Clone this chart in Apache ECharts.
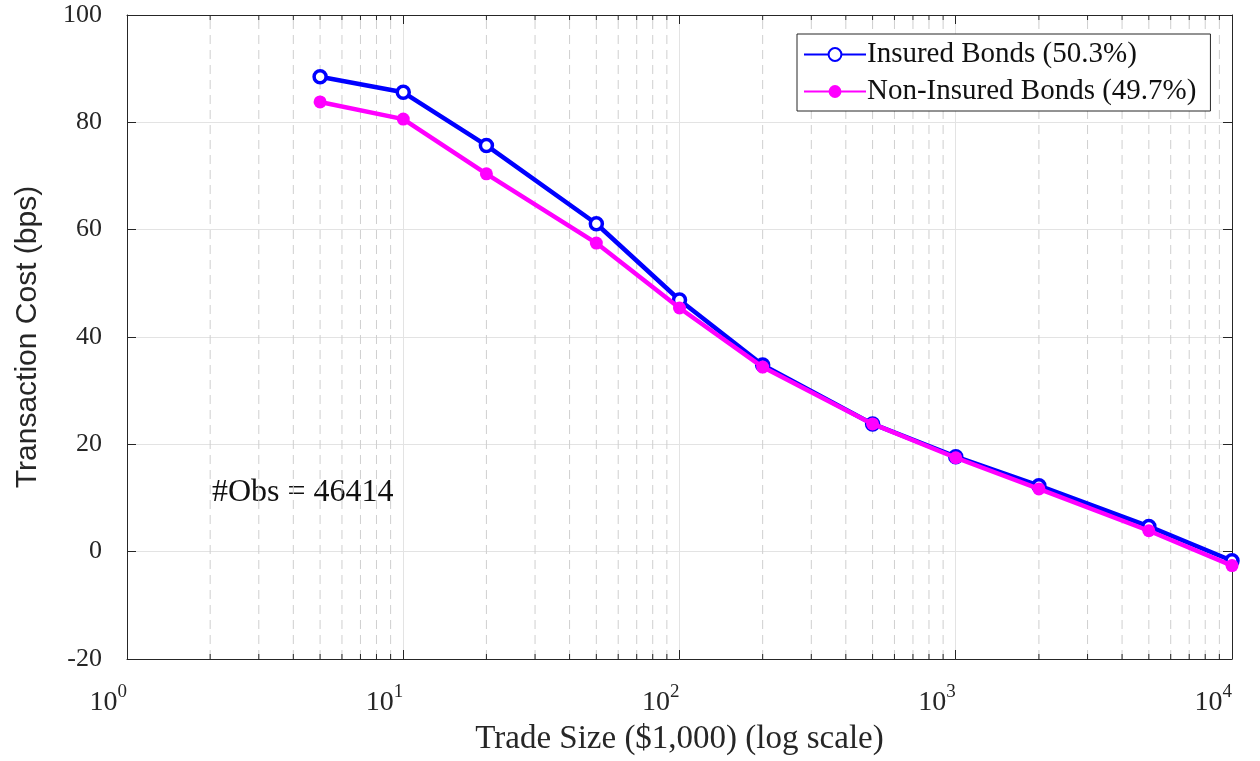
<!DOCTYPE html>
<html>
<head>
<meta charset="utf-8">
<script src="https://cdn.jsdelivr.net/npm/echarts@6/dist/echarts.min.js"></script>
<style>
  html, body { margin: 0; padding: 0; background: #fff; }
  #chart { width: 1260px; height: 761px; }
</style>
</head>
<body>
<div id="chart"></div>
<script>
  // trade size buckets ($1,000)
  var tradeSizes = [5, 10, 20, 50, 100, 200, 500, 1000, 2000, 5000, 10000];
  var insured = [88.5, 85.6, 75.7, 61.1, 46.9, 34.8, 23.8, 17.7, 12.3, 4.7, -1.7];
  var nonInsured = [83.8, 80.6, 70.4, 57.5, 45.4, 34.4, 23.8, 17.5, 11.7, 3.9, -2.6];
  var yTicks = [-20, 0, 20, 40, 60, 80, 100];
  // minor grid lines 2..9 x 10^k
  var minorX = [];
  for (var k = 0; k < 4; k++) {
    for (var m = 2; m <= 9; m++) minorX.push(m * Math.pow(10, k));
  }

  var serif = 'Liberation Serif';
  var ink = '#262626';

  var chart = echarts.init(document.getElementById('chart'));

  function pairs(ys) {
    return tradeSizes.map(function (x, i) { return [x, ys[i]]; });
  }

  chart.setOption({
    animation: false,
    grid: { left: 127, right: 28, top: 15, bottom: 102 },
    legend: {
      orient: 'vertical',
      left: 797, top: 34,
      padding: [6, 14, 5, 6],
      itemGap: 8,
      itemWidth: 62, itemHeight: 16,
      borderColor: ink, borderWidth: 1,
      backgroundColor: '#fff',
      textStyle: { fontFamily: serif, fontSize: 29, color: '#111', padding: [0, 0, 0, -4] },
      data: ['Insured Bonds (50.3%)', 'Non-Insured Bonds (49.7%)']
    },
    xAxis: [{
      type: 'log', logBase: 10, min: 1, max: 10000,
      name: 'Trade Size ($1,000) (log scale)',
      nameLocation: 'middle', nameGap: 64,
      nameTextStyle: { fontFamily: serif, fontSize: 33, color: ink },
      axisLine: { onZero: false, lineStyle: { color: ink, width: 1 } },
      axisTick: { inside: true, length: 9, lineStyle: { color: ink } },
      splitLine: { show: true, lineStyle: { color: '#e3e3e3', width: 1 } },
      axisLabel: {
        margin: 24,
        align: 'right',
        formatter: function (v) {
          return '{b|10}{s|' + Math.round(Math.log10(v)) + '}';
        },
        rich: {
          b: { fontFamily: serif, fontSize: 28, color: ink },
          s: { fontFamily: serif, fontSize: 19, color: ink, padding: [0, 0, 20, 0] }
        }
      }
    }, {
      type: 'log', logBase: 10, min: 1, max: 10000, position: 'top',
      axisLine: { onZero: false, lineStyle: { color: ink, width: 1 } },
      axisTick: { inside: true, length: 9, lineStyle: { color: ink } },
      axisLabel: { show: false }, splitLine: { show: false }
    }],
    yAxis: [{
      type: 'value', min: yTicks[0], max: yTicks[yTicks.length - 1], interval: 20,
      name: 'Transaction Cost (bps)',
      nameLocation: 'middle', nameGap: 84,
      nameTextStyle: { fontFamily: 'Liberation Sans', fontSize: 30, color: ink },
      axisLine: { show: true, onZero: false, lineStyle: { color: ink, width: 1 } },
      axisTick: { show: true, inside: true, length: 9, lineStyle: { color: ink } },
      splitLine: { show: true, lineStyle: { color: '#e3e3e3', width: 1 } },
      axisLabel: { margin: 25, fontFamily: serif, fontSize: 26, color: ink }
    }, {
      type: 'value', min: yTicks[0], max: yTicks[yTicks.length - 1], interval: 20,
      position: 'right',
      axisLine: { show: true, onZero: false, lineStyle: { color: ink, width: 1 } },
      axisTick: { show: true, inside: true, length: 9, lineStyle: { color: ink } },
      axisLabel: { show: false }, splitLine: { show: false }
    }],
    graphic: [{
      type: 'text', left: 212, top: 477,
      style: { text: '#Obs = 46414', font: '32px "Liberation Serif"', fill: '#111' }
    }],
    series: [{
      type: 'custom',
      silent: true,
      z: 1,
      data: minorX,
      renderItem: function (params, api) {
        var x = api.value(0);
        var lo = api.coord([x, yTicks[0]]);
        var hi = api.coord([x, yTicks[yTicks.length - 1]]);
        return {
          type: 'group',
          children: [{
            type: 'line',
            shape: { x1: lo[0], y1: lo[1], x2: hi[0], y2: hi[1] },
            style: { stroke: '#cfcfcf', lineWidth: 1, lineDash: [9, 6] }
          }, {
            type: 'line',
            shape: { x1: lo[0], y1: lo[1], x2: lo[0], y2: lo[1] - 5 },
            style: { stroke: ink, lineWidth: 1 }
          }, {
            type: 'line',
            shape: { x1: hi[0], y1: hi[1], x2: hi[0], y2: hi[1] + 5 },
            style: { stroke: ink, lineWidth: 1 }
          }]
        };
      },
      encode: { x: 0 }
    }, {
      name: 'Insured Bonds (50.3%)',
      type: 'line',
      z: 3,
      data: pairs(insured),
      symbol: 'circle', symbolSize: 12,
      lineStyle: { color: '#0000ff', width: 4.5 },
      itemStyle: { color: '#fff', borderColor: '#0000ff', borderWidth: 3.5 }
    }, {
      name: 'Non-Insured Bonds (49.7%)',
      type: 'line',
      z: 4,
      data: pairs(nonInsured),
      symbol: 'circle', symbolSize: 13,
      lineStyle: { color: '#ff00ff', width: 4.5 },
      itemStyle: { color: '#ff00ff' }
    }]
  });
</script>
</body>
</html>
